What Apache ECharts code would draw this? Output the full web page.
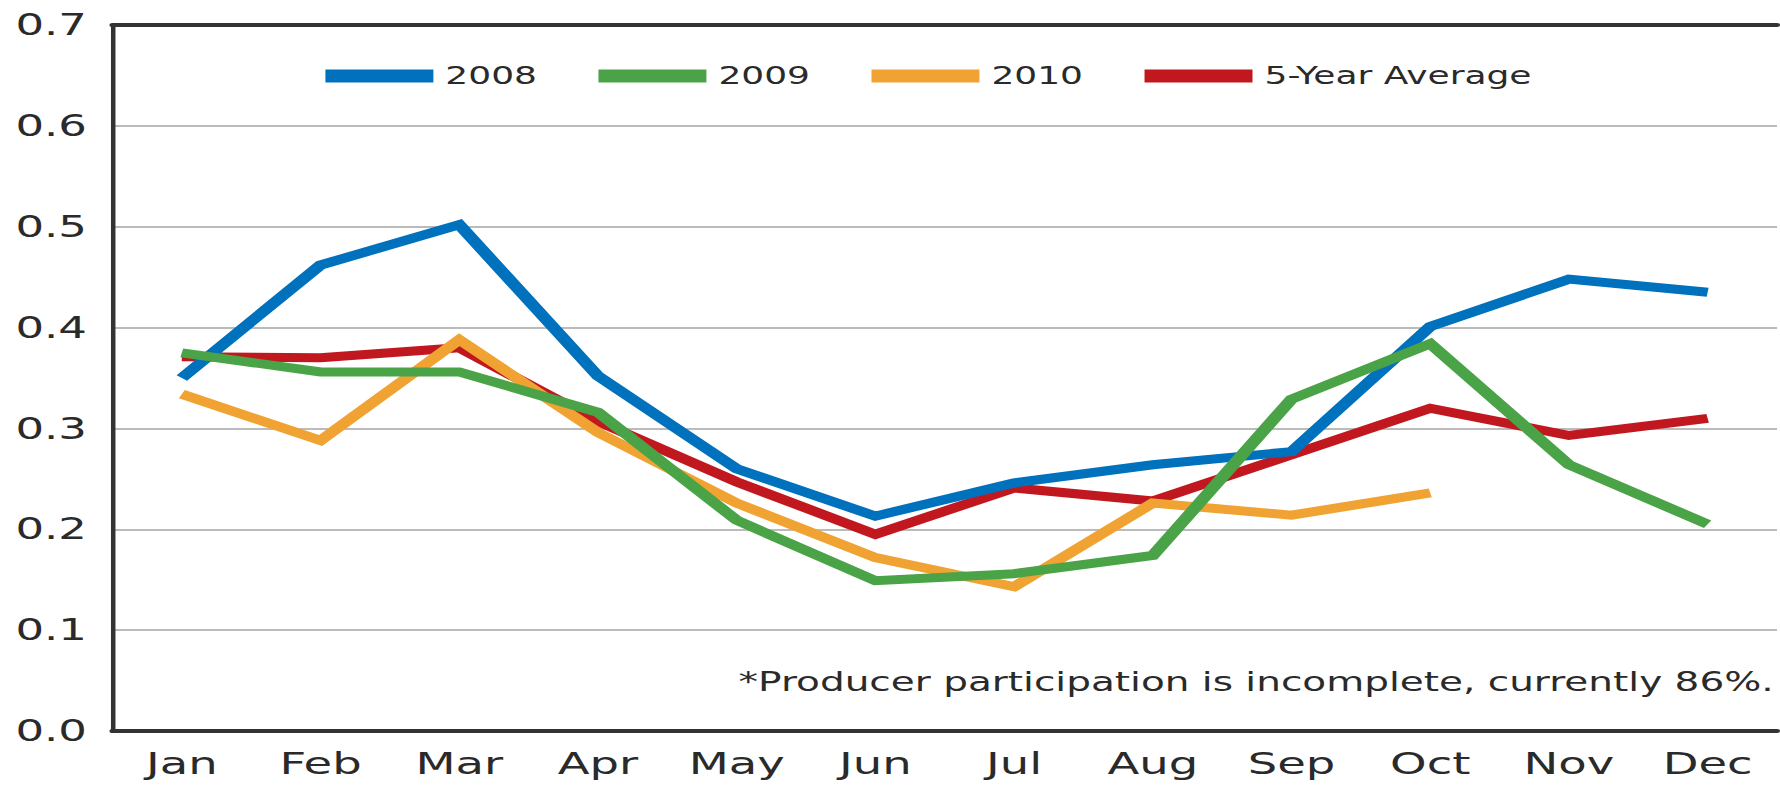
<!DOCTYPE html>
<html>
<head>
<meta charset="utf-8">
<script src="https://cdn.jsdelivr.net/npm/echarts@6/dist/echarts.min.js"></script>
<style>
  html, body { margin: 0; padding: 0; background: #fff; overflow: hidden; }
  /* source picture is stretched sideways, so draw narrow and widen it */
  #main { width: 1187px; height: 786px; transform: scaleX(1.49958); transform-origin: 0 0; }
</style>
</head>
<body>
<div id="main"></div>
<script>
const months = ['Jan', 'Feb', 'Mar', 'Apr', 'May', 'Jun', 'Jul', 'Aug', 'Sep', 'Oct', 'Nov', 'Dec'];
const yTicks = ['0.0', '0.1', '0.2', '0.3', '0.4', '0.5', '0.6', '0.7'];
const y2008 = [0.35, 0.462, 0.502, 0.352, 0.26, 0.213, 0.246, 0.264, 0.277, 0.401, 0.448, 0.435];
const y2009 = [0.375, 0.356, 0.356, 0.316, 0.209, 0.149, 0.156, 0.174, 0.329, 0.384, 0.264, 0.205];
const y2010 = [0.334, 0.288, 0.388, 0.296, 0.226, 0.172, 0.143, 0.226, 0.214, 0.236];
const avg5 = [0.371, 0.37, 0.38, 0.307, 0.247, 0.195, 0.241, 0.228, 0.274, 0.32, 0.293, 0.31];
const note = '*Producer participation is incomplete, currently 86%.';

const font = 'DejaVu Sans';
const chart = echarts.init(document.getElementById('main'), null, { renderer: 'svg' });

function lineSeries(name, data, color) {
  return {
    name: name,
    type: 'line',
    data: data,
    symbol: 'none',
    color: color,
    lineStyle: { width: 9, color: color, join: 'miter', cap: 'butt' },
    emphasis: { disabled: true }
  };
}

const option = {
  animation: false,
  grid: { left: 75, right: 2, top: 25, bottom: 55 },
  legend: {
    data: ['2008', '2009', '2010', '5-Year Average'],
    left: 212,
    top: 59,
    icon: 'rect',
    itemWidth: 72,
    itemHeight: 13,
    itemGap: 41,
    textStyle: { fontFamily: font, fontSize: 24, color: '#2a2a2a', padding: [0, 0, 0, 3] }
  },
  xAxis: [
    {
      type: 'category',
      data: months,
      boundaryGap: true,
      axisLine: { lineStyle: { color: '#333', width: 4 } },
      axisTick: { inside: true, alignWithLabel: true, length: 15, lineStyle: { color: '#444', width: 1.5 } },
      axisLabel: { fontFamily: font, fontSize: 31, lineHeight: 32, color: '#2a2a2a', margin: 16 }
    },
    {
      type: 'category',
      data: months,
      position: 'top',
      axisLine: { lineStyle: { color: '#333', width: 4 } },
      axisTick: { show: false },
      axisLabel: { show: false }
    }
  ],
  yAxis: {
    type: 'value',
    min: 0,
    max: 0.7,
    interval: 0.1,
    axisLine: { show: true, lineStyle: { color: '#333', width: 3 } },
    axisTick: { show: false },
    axisLabel: {
      fontFamily: font, fontSize: 30, color: '#2a2a2a', margin: 17,
      formatter: (v) => yTicks[Math.round(v * 10)]
    },
    splitLine: { lineStyle: { color: '#bbb', width: 2 } }
  },
  graphic: [{
    type: 'text',
    right: 4,
    top: 669,
    style: { text: note, fontFamily: font, fontSize: 26, fill: '#2a2a2a' }
  }],
  series: [
    lineSeries('5-Year Average', avg5, '#c1181f'),
    lineSeries('2008', y2008, '#0071bc'),
    lineSeries('2010', y2010, '#f0a332'),
    lineSeries('2009', y2009, '#4aa347')
  ]
};

chart.setOption(option);
</script>
</body>
</html>
